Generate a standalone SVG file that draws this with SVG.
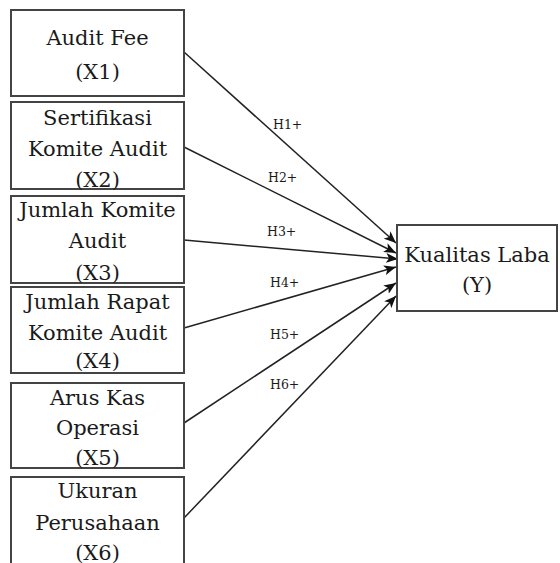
<svg xmlns="http://www.w3.org/2000/svg" width="560" height="563" viewBox="0 0 560 563">
<defs>
<style>
.box{fill:#fff;stroke:#444;stroke-width:2}
.t{font-family:'DejaVu Serif',serif;font-size:21px;fill:#1a1a1a;text-anchor:middle}
.l{font-family:'DejaVu Serif',serif;font-size:12.5px;fill:#1a1a1a}
.c{stroke:#222;stroke-width:1.5;fill:none;marker-end:url(#ah)}
</style>
<marker id="ah" viewBox="0 0 12 10" refX="12" refY="5" markerWidth="12" markerHeight="10" markerUnits="userSpaceOnUse" orient="auto">
<path d="M0,0 L12,5 L0,10 L3,5 Z" fill="#111"/>
</marker>
</defs>
<rect width="560" height="563" fill="#fff"/>
<g id="connectors">
<line class="c" x1="184" y1="52" x2="396" y2="243"/>
<line class="c" x1="184" y1="147" x2="396" y2="253"/>
<line class="c" x1="184" y1="240" x2="398" y2="259"/>
<line class="c" x1="184" y1="328" x2="396" y2="267"/>
<line class="c" x1="184" y1="423" x2="396" y2="283"/>
<line class="c" x1="184" y1="518" x2="396" y2="296"/>
<text class="l" x="273" y="129">H1+</text>
<text class="l" x="268" y="182">H2+</text>
<text class="l" x="267" y="236">H3+</text>
<text class="l" x="270" y="287">H4+</text>
<text class="l" x="270" y="339">H5+</text>
<text class="l" x="270" y="389">H6+</text>
</g>
<g id="x1"><rect class="box" x="11" y="10" width="173" height="86"/>
<text class="t" x="97.5" y="45">Audit Fee</text><text class="t" x="97.5" y="79">(X1)</text></g>
<g id="x2"><rect class="box" x="11" y="102" width="173" height="87"/>
<text class="t" x="97.5" y="125">Sertifikasi</text><text class="t" x="97.5" y="156">Komite Audit</text><text class="t" x="97.5" y="187">(X2)</text></g>
<g id="x3"><rect class="box" x="11" y="196" width="173" height="87"/>
<text class="t" x="97.5" y="217">Jumlah Komite</text><text class="t" x="97.5" y="248">Audit</text><text class="t" x="97.5" y="280">(X3)</text></g>
<g id="x4"><rect class="box" x="11" y="287" width="173" height="86"/>
<text class="t" x="97.5" y="309">Jumlah Rapat</text><text class="t" x="97.5" y="340">Komite Audit</text><text class="t" x="97.5" y="368">(X4)</text></g>
<g id="x5"><rect class="box" x="11" y="383" width="173" height="85"/>
<text class="t" x="97.5" y="405">Arus Kas</text><text class="t" x="97.5" y="435">Operasi</text><text class="t" x="97.5" y="465">(X5)</text></g>
<g id="x6"><rect class="box" x="11" y="477" width="173" height="95"/>
<text class="t" x="97.5" y="498">Ukuran</text><text class="t" x="97.5" y="530">Perusahaan</text><text class="t" x="97.5" y="560">(X6)</text></g>
<g id="y"><rect class="box" x="397" y="225" width="160" height="86"/>
<text class="t" x="477" y="262">Kualitas Laba</text><text class="t" x="477" y="292">(Y)</text></g>
</svg>
